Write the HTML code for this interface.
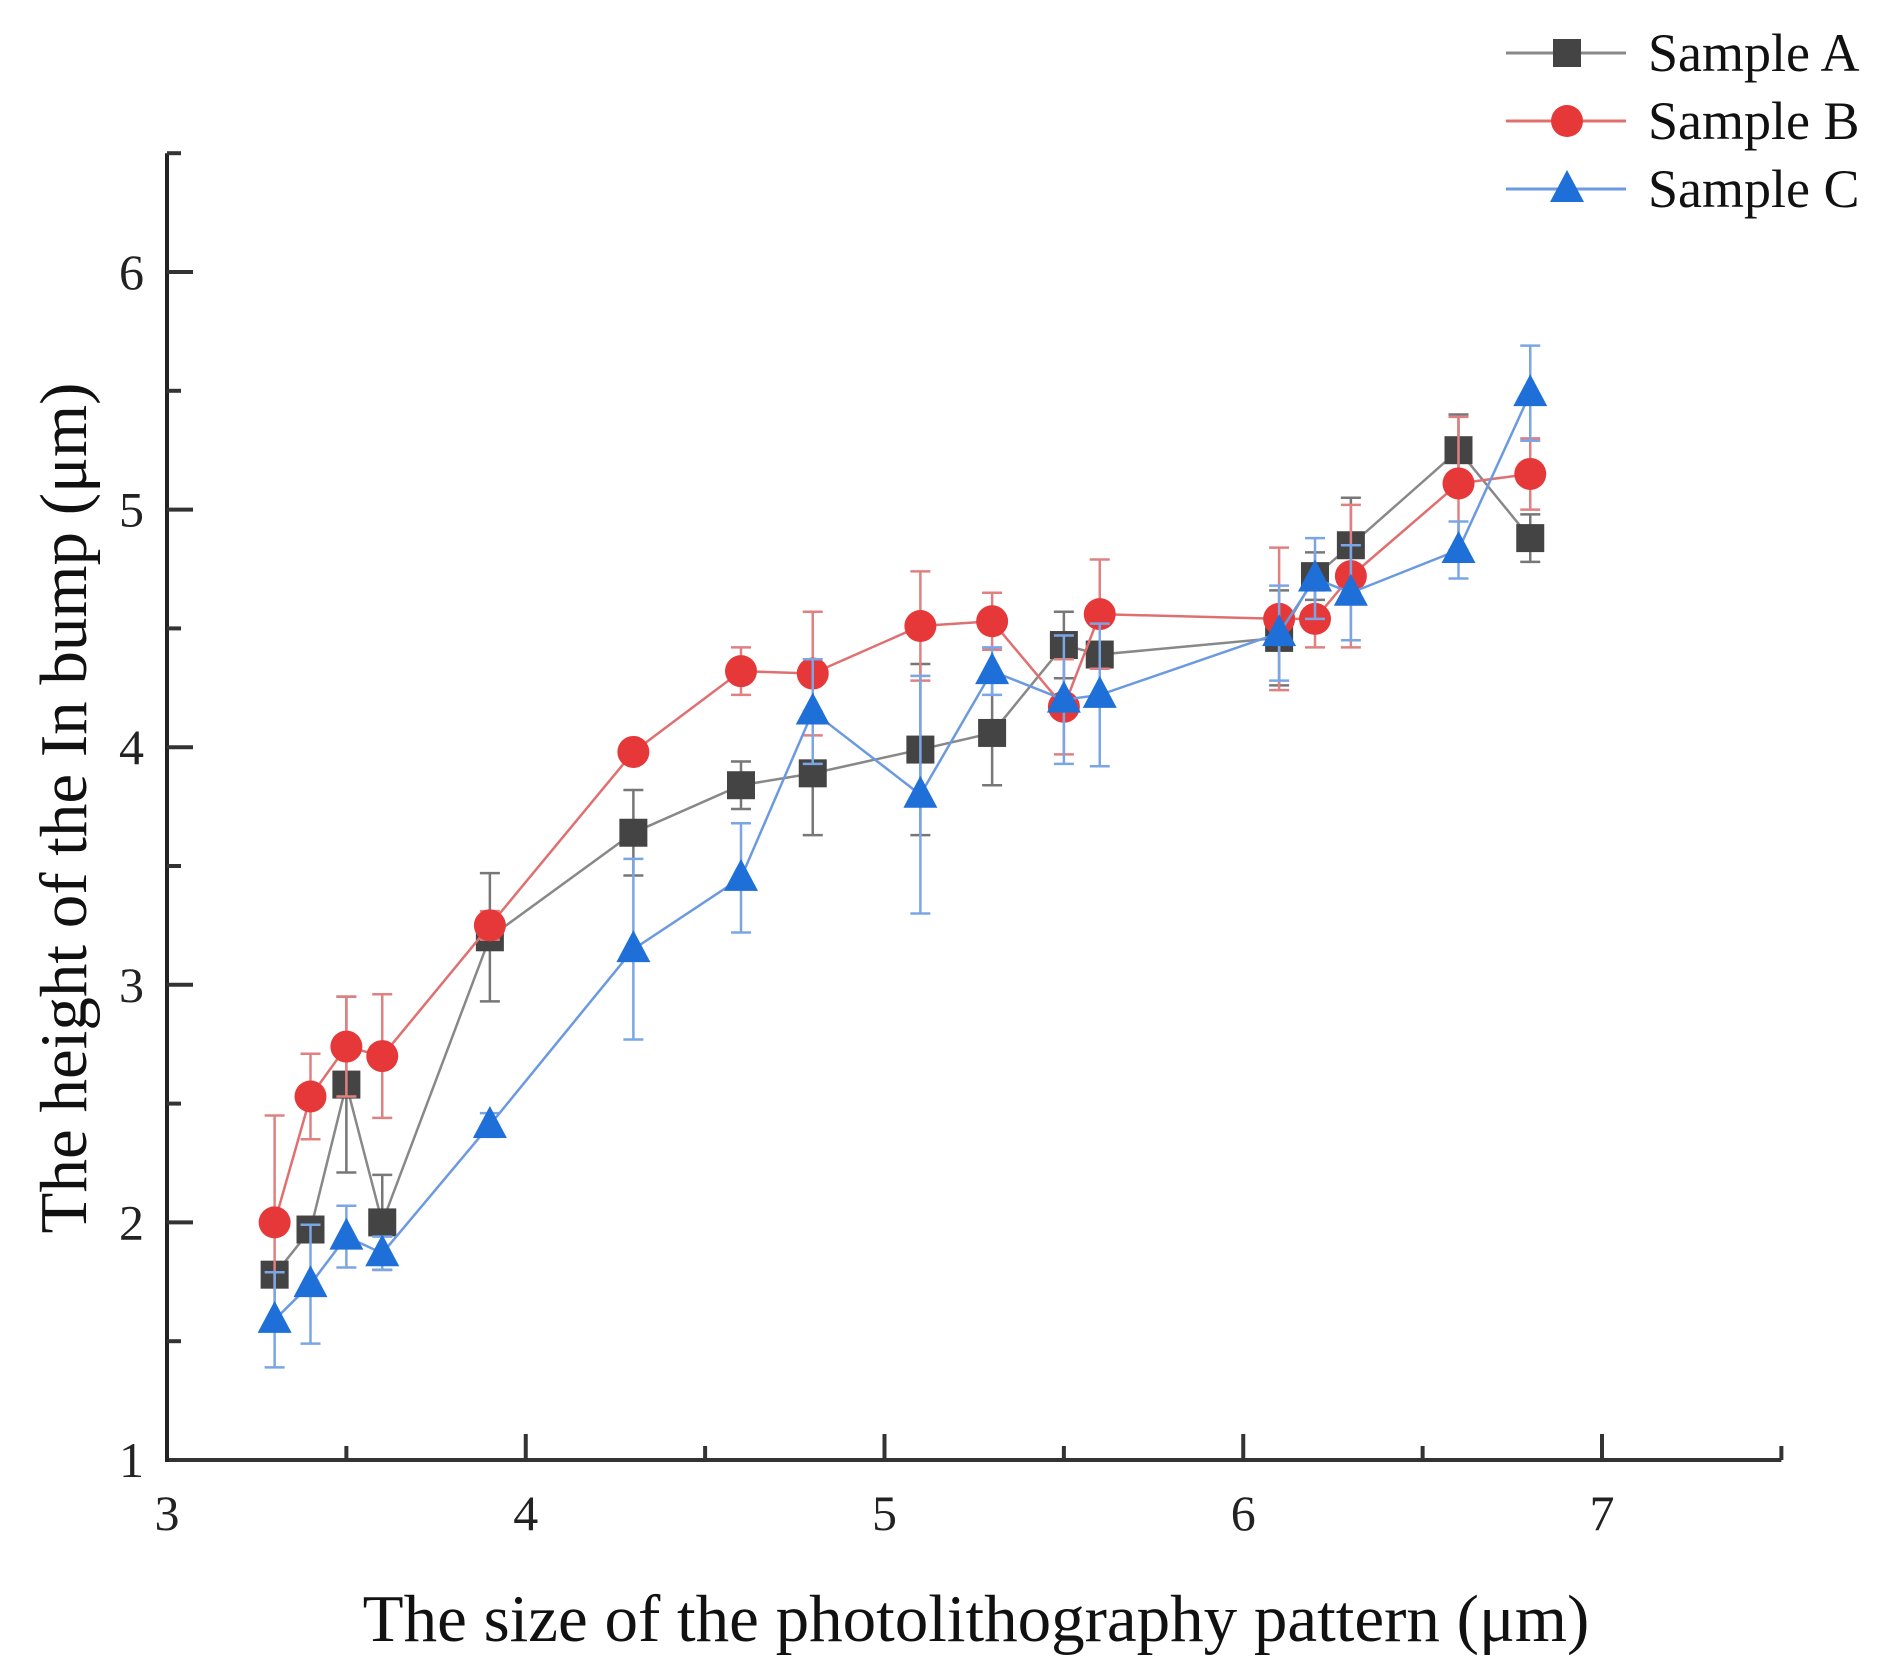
<!DOCTYPE html>
<html><head><meta charset="utf-8"><style>
html,body{margin:0;padding:0;background:#fff;}
svg{display:block;font-family:"Liberation Serif",serif;}
</style></head><body>
<svg id="chart" width="1892" height="1671" viewBox="0 0 1892 1671" xmlns="http://www.w3.org/2000/svg"></svg>
<script>
const xs=[3.3,3.4,3.5,3.6,3.9,4.3,4.6,4.8,5.1,5.3,5.5,5.6,6.1,6.2,6.3,6.6,6.8];
const sampleA=[1.78,1.97,2.58,2.0,3.2,3.64,3.84,3.89,3.99,4.06,4.43,4.39,4.46,4.72,4.85,5.25,4.88];
const errA=[0.05,0.05,0.37,0.2,0.27,0.18,0.1,0.26,0.36,0.22,0.14,0.2,0.2,0.1,0.2,0.15,0.1];
const sampleB=[2.0,2.53,2.74,2.7,3.25,3.98,4.32,4.31,4.51,4.53,4.17,4.56,4.54,4.54,4.72,5.11,5.15];
const errB=[0.45,0.18,0.21,0.26,0.06,0.04,0.1,0.26,0.23,0.12,0.2,0.23,0.3,0.12,0.3,0.28,0.15];
const sampleC=[1.59,1.74,1.94,1.87,2.41,3.15,3.45,4.15,3.8,4.32,4.2,4.22,4.48,4.71,4.65,4.83,5.49];
const errC=[0.2,0.25,0.13,0.07,0.05,0.38,0.23,0.22,0.5,0.1,0.27,0.3,0.2,0.17,0.2,0.12,0.2];
const xTicks=[3,4,5,6,7];
const yTicks=[1,2,3,4,5,6];

const svg=document.getElementById('chart');
const NS='http://www.w3.org/2000/svg';
const X=v=>167+(v-3)*358.75;
const Y=v=>1460-(v-1)*237.6;
function mk(tag,attrs,parent){const e=document.createElementNS(NS,tag);for(const k in attrs)e.setAttribute(k,attrs[k]);(parent||svg).appendChild(e);return e;}

let ax=mk('line',{x1:X(3)-2,y1:Y(1),x2:X(7.5),y2:Y(1),stroke:'#333','stroke-width':4});


let ay=mk('line',{x1:X(3),y1:Y(1)+2,x2:X(3),y2:Y(6.5),stroke:'#222','stroke-width':4});


for(let v=3.5;v<=7.5;v+=0.5){
  const major=Number.isInteger(v);
  const t=mk('line',{x1:X(v),y1:Y(1),x2:X(v),y2:Y(1)-(major?26:14),stroke:'#333','stroke-width':4});
  
  
}
for(let v=1.5;v<=6.5;v+=0.5){
  const major=Number.isInteger(v);
  const t=mk('line',{x1:X(3),y1:Y(v),x2:X(3)+(major?26:14),y2:Y(v),stroke:'#333','stroke-width':4});
  
  
}
xTicks.forEach(v=>{const t=mk('text',{x:X(v),y:1530,'font-size':50,'text-anchor':'middle',fill:'#222'});t.textContent=v;
  
  });
yTicks.forEach(v=>{const t=mk('text',{x:144,y:Y(v)+17,'font-size':50,'text-anchor':'end',fill:'#222'});t.textContent=v;
  
  });
let xt=mk('text',{x:976,y:1641,'font-size':67,'text-anchor':'middle',fill:'#111'});
xt.textContent='The size of the photolithography pattern (μm)';


let yt=mk('text',{x:0,y:0,'font-size':67,'text-anchor':'middle',fill:'#111',transform:'translate(86,808) rotate(-90)'});
yt.textContent='The height of the In bump (μm)';



function marker(shape,cx,cy,fill,g){
  if(shape==='square')return mk('rect',{x:cx-14,y:cy-14,width:28,height:28,fill:fill},g);
  if(shape==='circle')return mk('circle',{cx:cx,cy:cy,r:16,fill:fill},g);
  return mk('polygon',{points:`${cx},${cy-19} ${cx-17},${cy+13} ${cx+17},${cy+13}`,fill:fill},g);
}
const series=[
 {name:'sample-a',vals:sampleA,err:errA,line:'#888',errc:'#777',fill:'#444',shape:'square'},
 {name:'sample-b',vals:sampleB,err:errB,line:'#e07070',errc:'#e08080',fill:'#e63838',shape:'circle'},
 {name:'sample-c',vals:sampleC,err:errC,line:'#6b9ae0',errc:'#7aa6e6',fill:'#1e6fd8',shape:'triangle'}
];
series.forEach(s=>{
  const g=mk('g',{});
  
  
  xs.forEach((x,i)=>{
    const v=s.vals[i],e=s.err[i];
    const eb=mk('path',{d:`M${X(x)},${Y(v+e)}V${Y(v-e)}M${X(x)-10},${Y(v+e)}h20M${X(x)-10},${Y(v-e)}h20`,stroke:s.errc,'stroke-width':2.5,fill:'none'},g);
    
    
  });
  const ln=mk('polyline',{points:xs.map((x,i)=>X(x)+','+Y(s.vals[i])).join(' '),stroke:s.line,'stroke-width':2.5,fill:'none'},g);
  
  
  xs.forEach((x,i)=>{
    const m=marker(s.shape,X(x),Y(s.vals[i]),s.fill,g);
    
    
  });
});
const labels=['Sample A','Sample B','Sample C'];
series.forEach((s,i)=>{
  const y=53+i*68;
  const g=mk('g',{});
  
  
  mk('line',{x1:1506,y1:y,x2:1626,y2:y,stroke:s.line,'stroke-width':3},g);
  marker(s.shape,1567,y,s.fill,g);
  const t=mk('text',{x:1648,y:y+18,'font-size':54,fill:'#111'},g);
  t.textContent=labels[i];
});
</script>
</body></html>
